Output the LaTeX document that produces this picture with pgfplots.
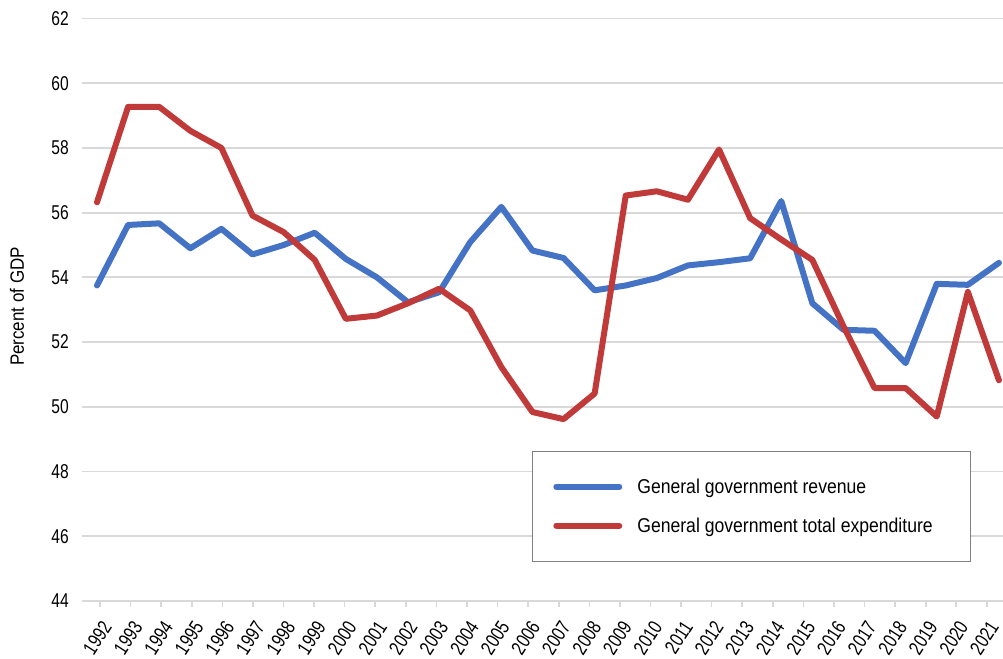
\documentclass[border=0pt]{standalone}
\usepackage{fontspec}
\setmainfont{Liberation Sans}[FakeStretch=0.88]
\newfontfamily\narrowfont{Liberation Sans}[FakeStretch=0.78]
\usepackage{graphicx}
\usepackage{pgfplots}
\pgfplotsset{compat=1.18}
\definecolor{rev}{HTML}{4472C4}
\definecolor{expc}{HTML}{C03A3A}
\definecolor{gridc}{HTML}{D9D9D9}
\definecolor{legc}{HTML}{808080}
\begin{document}
\begin{tikzpicture}
\useasboundingbox (-82pt,-57pt) rectangle (921pt,601pt);
\begin{axis}[
  at={(0pt,0pt)}, anchor=south west,
  scale only axis, width=921pt, height=582.5pt,
  xmin=-0.482, xmax=29.13, ymin=44, ymax=62,
  clip=false,
  axis x line*=bottom, axis y line*=left,
  y axis line style={draw=none},
  x axis line style={draw=gridc, line width=2pt, -},
  ytick={44,46,...,62},
  ytick style={draw=none},
  ymajorgrids, grid style={draw=gridc, line width=1.8pt},
  xtick={0.096,1.080,2.063,3.046,4.030,5.013,5.996,6.979,7.963,8.946,9.929,10.912,11.896,12.879,13.862,14.846,15.829,16.812,17.795,18.779,19.762,20.745,21.728,22.712,23.695,24.678,25.662,26.645,27.628,28.611},
  xticklabels={1992,1993,1994,1995,1996,1997,1998,1999,2000,2001,2002,2003,2004,2005,2006,2007,2008,2009,2010,2011,2012,2013,2014,2015,2016,2017,2018,2019,2020,2021},
  xtick style={draw=gridc, line width=1.6pt},
  tick align=outside, major tick length=6pt,
  /pgf/number format/assume math mode=true,
  tick label style={font=\narrowfont\fontsize{20}{24}\selectfont},
  yticklabel style={anchor=east, inner sep=0pt, xshift=-7pt},
  xticklabel style={inner sep=0pt, xshift=7pt, yshift=-16pt, rotate=57, anchor=east},
  legend style={at={(axis cs:13.98,48.65)}, anchor=north west, draw=legc, line width=1pt,
    inner xsep=21pt, inner ysep=27.7pt, row sep=23pt,
    font=\fontsize{20}{24}\selectfont,
    nodes={inner sep=0pt, anchor=west},
    /tikz/every odd column/.append style={column sep=15pt}},
  legend image code/.code={\draw[#1, line cap=round] (0pt,0pt) -- (63pt,0pt);},
  legend cell align=left,
]
\addplot[rev, line width=6pt, line join=round, line cap=round] coordinates {
(0,53.75) (1,55.62) (2,55.67) (3,54.90) (4,55.50) (5,54.71) (6,55.00) (7,55.38) (8,54.57) (9,54.00)
(10,53.23) (11,53.54) (12,55.09) (13,56.18) (14,54.83) (15,54.60) (16,53.60) (17,53.75) (18,53.98) (19,54.37)
(20,54.47) (21,54.59) (22,56.36) (23,53.20) (24,52.38) (25,52.35) (26,51.35) (27,53.80) (28,53.77) (29,54.45)
};
\addlegendentry{\makebox[312pt][l]{General government revenue}}
\addplot[expc, line width=6pt, line join=round, line cap=round] coordinates {
(0,56.32) (1,59.27) (2,59.27) (3,58.53) (4,58.00) (5,55.91) (6,55.40) (7,54.54) (8,52.72) (9,52.82)
(10,53.20) (11,53.65) (12,52.98) (13,51.23) (14,49.84) (15,49.62) (16,50.41) (17,56.53) (18,56.66) (19,56.40)
(20,57.95) (21,55.83) (22,55.17) (23,54.54) (24,52.49) (25,50.58) (26,50.58) (27,49.70) (28,53.55) (29,50.82)
};
\addlegendentry{\makebox[312pt][l]{General government total expenditure}}
\end{axis}
\node[rotate=90, inner sep=0pt, font=\fontsize{19.5}{23}\selectfont] at (-65pt,294.5pt) {\resizebox{119pt}{!}{Percent of GDP}};
\end{tikzpicture}
\end{document}
